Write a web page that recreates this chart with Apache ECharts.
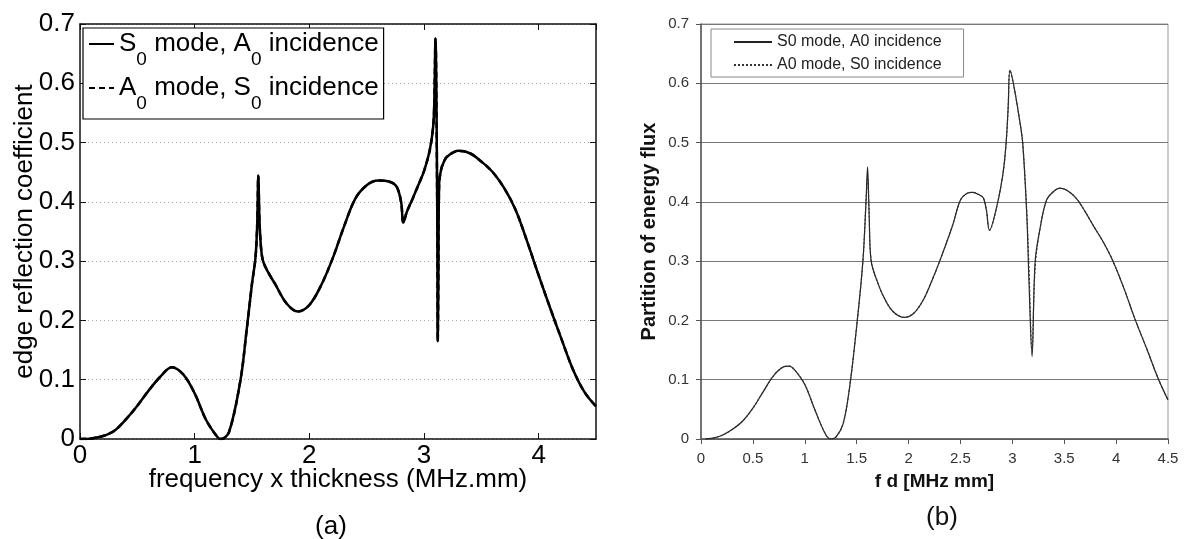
<!DOCTYPE html>
<html>
<head>
<meta charset="utf-8">
<script src="https://cdn.jsdelivr.net/npm/echarts@6/dist/echarts.min.js"></script>
<style>
  html, body { margin: 0; padding: 0; background: #fff; }
  #chart { width: 1189px; height: 539px; }
</style>
</head>
<body>
<div id="chart"></div>
<script>
// (a) edge reflection coefficient vs frequency x thickness
const fdA = [0, 0.1, 0.2, 0.3, 0.4, 0.5, 0.6, 0.7, 0.8, 0.9, 1.0, 1.1, 1.2, 1.23, 1.3, 1.4, 1.45, 1.5, 1.53, 1.545,
  1.555, 1.565, 1.58, 1.6, 1.65, 1.7, 1.8, 1.9, 2.0, 2.1, 2.2, 2.3, 2.4, 2.5, 2.6, 2.7, 2.76, 2.8, 2.82, 2.85,
  2.9, 2.95, 3.0, 3.05, 3.08, 3.09, 3.1, 3.115, 3.12, 3.125, 3.132, 3.15, 3.17, 3.2, 3.3, 3.4, 3.5, 3.6, 3.7, 3.8,
  3.9, 4.0, 4.1, 4.2, 4.3, 4.4, 4.5];
const edgeS0 = [0, 0.001, 0.005, 0.014, 0.033, 0.056, 0.082, 0.105, 0.121, 0.109, 0.077, 0.032, 0.003, 0, 0.012, 0.100, 0.178, 0.262, 0.305, 0.36,
  0.444, 0.37, 0.32, 0.298, 0.278, 0.262, 0.229, 0.215, 0.226, 0.258, 0.303, 0.357, 0.405, 0.428, 0.436, 0.434, 0.426, 0.40, 0.365, 0.383,
  0.405, 0.428, 0.452, 0.487, 0.527, 0.57, 0.676, 0.40, 0.165, 0.26, 0.43, 0.455, 0.466, 0.476, 0.486, 0.482, 0.468, 0.450, 0.423, 0.386,
  0.333, 0.276, 0.221, 0.168, 0.117, 0.079, 0.055];
// A0 curve lies on top of the S0 curve in (a)
const edgeA0 = [0, 0.001, 0.005, 0.014, 0.033, 0.056, 0.082, 0.105, 0.121, 0.109, 0.077, 0.032, 0.003, 0, 0.012, 0.100, 0.178, 0.262, 0.305, 0.36,
  0.444, 0.37, 0.32, 0.298, 0.278, 0.262, 0.229, 0.215, 0.226, 0.258, 0.303, 0.357, 0.405, 0.428, 0.436, 0.434, 0.426, 0.40, 0.365, 0.383,
  0.405, 0.428, 0.452, 0.487, 0.527, 0.57, 0.676, 0.40, 0.165, 0.26, 0.43, 0.455, 0.466, 0.476, 0.486, 0.482, 0.468, 0.450, 0.423, 0.386,
  0.333, 0.276, 0.221, 0.168, 0.117, 0.079, 0.055];

// (b) partition of energy flux vs f d
const fdB = [0.04, 0.1, 0.2, 0.3, 0.4, 0.5, 0.6, 0.7, 0.8, 0.85, 0.9, 1.0, 1.1, 1.2, 1.25, 1.3, 1.37, 1.43, 1.5, 1.56,
  1.59, 1.605, 1.62, 1.64, 1.7, 1.76, 1.85, 1.96, 2.05, 2.14, 2.22, 2.3, 2.42, 2.5, 2.56, 2.62, 2.68, 2.72, 2.75, 2.78,
  2.85, 2.91, 2.94, 2.96, 2.977, 3.01, 3.07, 3.1, 3.14, 3.16, 3.19, 3.22, 3.27, 3.33, 3.4, 3.46, 3.54, 3.62, 3.7, 3.78,
  3.88, 3.97, 4.08, 4.18, 4.3, 4.41, 4.5];
const fluxS0 = [0, 0.001, 0.006, 0.016, 0.030, 0.052, 0.080, 0.107, 0.122, 0.123, 0.117, 0.092, 0.048, 0.008, 0, 0.003, 0.026, 0.085, 0.19, 0.30,
  0.40, 0.459, 0.38, 0.30, 0.265, 0.24, 0.215, 0.205, 0.212, 0.234, 0.265, 0.30, 0.358, 0.403, 0.414, 0.416, 0.412, 0.407, 0.386, 0.352,
  0.392, 0.448, 0.499, 0.56, 0.622, 0.60, 0.538, 0.499, 0.375, 0.268, 0.139, 0.30, 0.358, 0.403, 0.418, 0.423, 0.418, 0.405, 0.384, 0.360,
  0.331, 0.30, 0.252, 0.203, 0.150, 0.10, 0.066];
const fluxA0 = [0, 0.001, 0.006, 0.016, 0.030, 0.052, 0.080, 0.107, 0.122, 0.123, 0.117, 0.092, 0.048, 0.008, 0, 0.003, 0.026, 0.085, 0.19, 0.30,
  0.40, 0.44, 0.38, 0.30, 0.265, 0.24, 0.215, 0.205, 0.212, 0.234, 0.265, 0.30, 0.358, 0.403, 0.414, 0.416, 0.412, 0.407, 0.386, 0.352,
  0.392, 0.448, 0.499, 0.56, 0.622, 0.60, 0.538, 0.499, 0.38, 0.29, 0.15, 0.29, 0.358, 0.403, 0.418, 0.423, 0.418, 0.405, 0.384, 0.360,
  0.331, 0.30, 0.252, 0.203, 0.150, 0.10, 0.066];

const namesA = ['S₀ mode, A₀ incidence', 'A₀ mode, S₀ incidence'];
const namesB = ['S0 mode, A0 incidence', 'A0 mode, S0 incidence'];

function pairs(xs, ys) {
  return xs.map(function (x, i) { return [x, ys[i]]; });
}

const FONT = 'Liberation Sans';
const FS = 26;
const chart = echarts.init(document.getElementById('chart'));

// matlab style axis, ticks inside
function boxAxis(pos, grid, show) {
  return {
    gridIndex: grid, type: 'value', position: pos,
    axisLine: { show: true, onZero: false, lineStyle: { color: '#111', width: 1.5 } },
    axisTick: { show: true, inside: true, length: 6, lineStyle: { color: '#111', width: 1 } },
    axisLabel: { show: show, fontFamily: FONT, fontSize: FS, color: '#000' },
    splitLine: { show: false }
  };
}

const xa = boxAxis('bottom', 0, true);
Object.assign(xa, {
  min: 0, max: 4.5, interval: 1,
  name: 'frequency x thickness (MHz.mm)', nameLocation: 'middle', nameGap: 28, nameMoveOverlap: false,
  nameTextStyle: { fontFamily: FONT, fontSize: FS, color: '#000' }
});
xa.axisLabel.margin = 4;
xa.axisLabel.showMaxLabel = false;
const xaTop = boxAxis('top', 0, false);
Object.assign(xaTop, { min: 0, max: 4.5, interval: 1 });

const ya = boxAxis('left', 0, true);
Object.assign(ya, {
  min: 0, max: 0.7, interval: 0.1,
  name: 'edge reflection coefficient', nameLocation: 'middle', nameGap: 42, nameMoveOverlap: false,
  nameTextStyle: { fontFamily: FONT, fontSize: FS, color: '#000' }
});
ya.axisLabel.margin = 5;
ya.splitLine = { show: true, lineStyle: { color: '#aaa', type: [1, 3], width: 1 } };
const yaRight = boxAxis('right', 0, false);
Object.assign(yaRight, { min: 0, max: 0.7, interval: 0.1 });

const hiddenMarker = { color: 'rgba(0,0,0,0)', borderColor: 'rgba(0,0,0,0)', borderWidth: 0 };

const option = {
  animation: false,
  backgroundColor: '#fff',
  title: [
    { text: '(a)', left: 326, top: 509, textAlign: 'center',
      textStyle: { fontFamily: FONT, fontSize: FS, fontWeight: 'normal', color: '#000' } },
    { text: '(b)', left: 937, top: 500, textAlign: 'center',
      textStyle: { fontFamily: FONT, fontSize: FS, fontWeight: 'normal', color: '#111' } }
  ],
  grid: [
    { left: 80, top: 24, width: 516, height: 415 },
    { left: 701, top: 24, width: 467, height: 415, show: true, borderColor: '#999', borderWidth: 1, backgroundColor: '#fff' }
  ],
  legend: [
    {
      data: namesA, orient: 'vertical', left: 83, top: 28,
      padding: [3, 5, 6, 5], itemGap: 6, itemWidth: 25, itemHeight: 12,
      backgroundColor: '#fff', borderColor: '#000', borderWidth: 1.2,
      itemStyle: hiddenMarker,
      formatter: function (name) {
        return name.split('₀').map(function (p) { return '{m|' + p + '}'; }).join('{s|0}');
      },
      textStyle: {
        fontFamily: FONT, color: '#000',
        rich: {
          m: { fontFamily: FONT, fontSize: FS, lineHeight: 26, verticalAlign: 'top', color: '#000' },
          s: { fontFamily: FONT, fontSize: 19, lineHeight: 19, verticalAlign: 'top', padding: [19, 0, 0, 0], color: '#000' }
        }
      }
    },
    {
      data: namesB, orient: 'vertical', left: 711, top: 29,
      padding: [5, 22, 4, 22], itemGap: 7, itemWidth: 38, itemHeight: 12,
      backgroundColor: '#fff', borderColor: '#888', borderWidth: 1,
      itemStyle: hiddenMarker,
      textStyle: { fontFamily: FONT, fontSize: 16, color: '#222' }
    }
  ],
  xAxis: [
    xa, xaTop,
    {
      gridIndex: 1, type: 'value', min: 0, max: 4.5, interval: 0.5,
      name: 'f d [MHz mm]', nameLocation: 'middle', nameGap: 33, nameMoveOverlap: false,
      nameTextStyle: { fontFamily: FONT, fontSize: 19, fontWeight: 'bold', color: '#111' },
      axisLine: { onZero: false, lineStyle: { color: '#555', width: 1.5 } },
      axisTick: { inside: false, length: 5, lineStyle: { color: '#555' } },
      axisLabel: { fontFamily: FONT, fontSize: 15, color: '#333', margin: 12 },
      splitLine: { show: false }
    }
  ],
  yAxis: [
    ya, yaRight,
    {
      gridIndex: 1, type: 'value', min: 0, max: 0.7, interval: 0.1,
      name: 'Partition of energy flux', nameLocation: 'middle', nameGap: 42, nameMoveOverlap: false,
      nameTextStyle: { fontFamily: FONT, fontSize: 20, fontWeight: 'bold', color: '#111' },
      axisLine: { show: true, onZero: false, lineStyle: { color: '#555', width: 1.5 } },
      axisTick: { show: true, inside: false, length: 5, lineStyle: { color: '#555' } },
      axisLabel: { fontFamily: FONT, fontSize: 15, color: '#333', margin: 12 },
      splitLine: { show: true, lineStyle: { color: '#777', width: 1.2 } }
    }
  ],
  series: [
    {
      name: namesA[1], type: 'line', xAxisIndex: 0, yAxisIndex: 0,
      data: pairs(fdA, edgeA0), symbol: 'none', smooth: 0.35,
      lineStyle: { color: '#000', width: 2.5, type: [6, 4] }, itemStyle: { color: '#000' }
    },
    {
      name: namesA[0], type: 'line', xAxisIndex: 0, yAxisIndex: 0,
      data: pairs(fdA, edgeS0), symbol: 'none', smooth: 0.35,
      lineStyle: { color: '#000', width: 2.5 }, itemStyle: { color: '#000' }
    },
    {
      name: namesB[0], type: 'line', xAxisIndex: 2, yAxisIndex: 2,
      data: pairs(fdB, fluxS0), symbol: 'none', smooth: 0.35,
      lineStyle: { color: '#222', width: 1.2 }, itemStyle: { color: '#222' }
    },
    {
      name: namesB[1], type: 'line', xAxisIndex: 2, yAxisIndex: 2,
      data: pairs(fdB, fluxA0), symbol: 'none', smooth: 0.35,
      lineStyle: { color: '#333', width: 1.2, type: [2, 2] }, itemStyle: { color: '#333' }
    }
  ]
};

chart.setOption(option);
</script>
</body>
</html>
